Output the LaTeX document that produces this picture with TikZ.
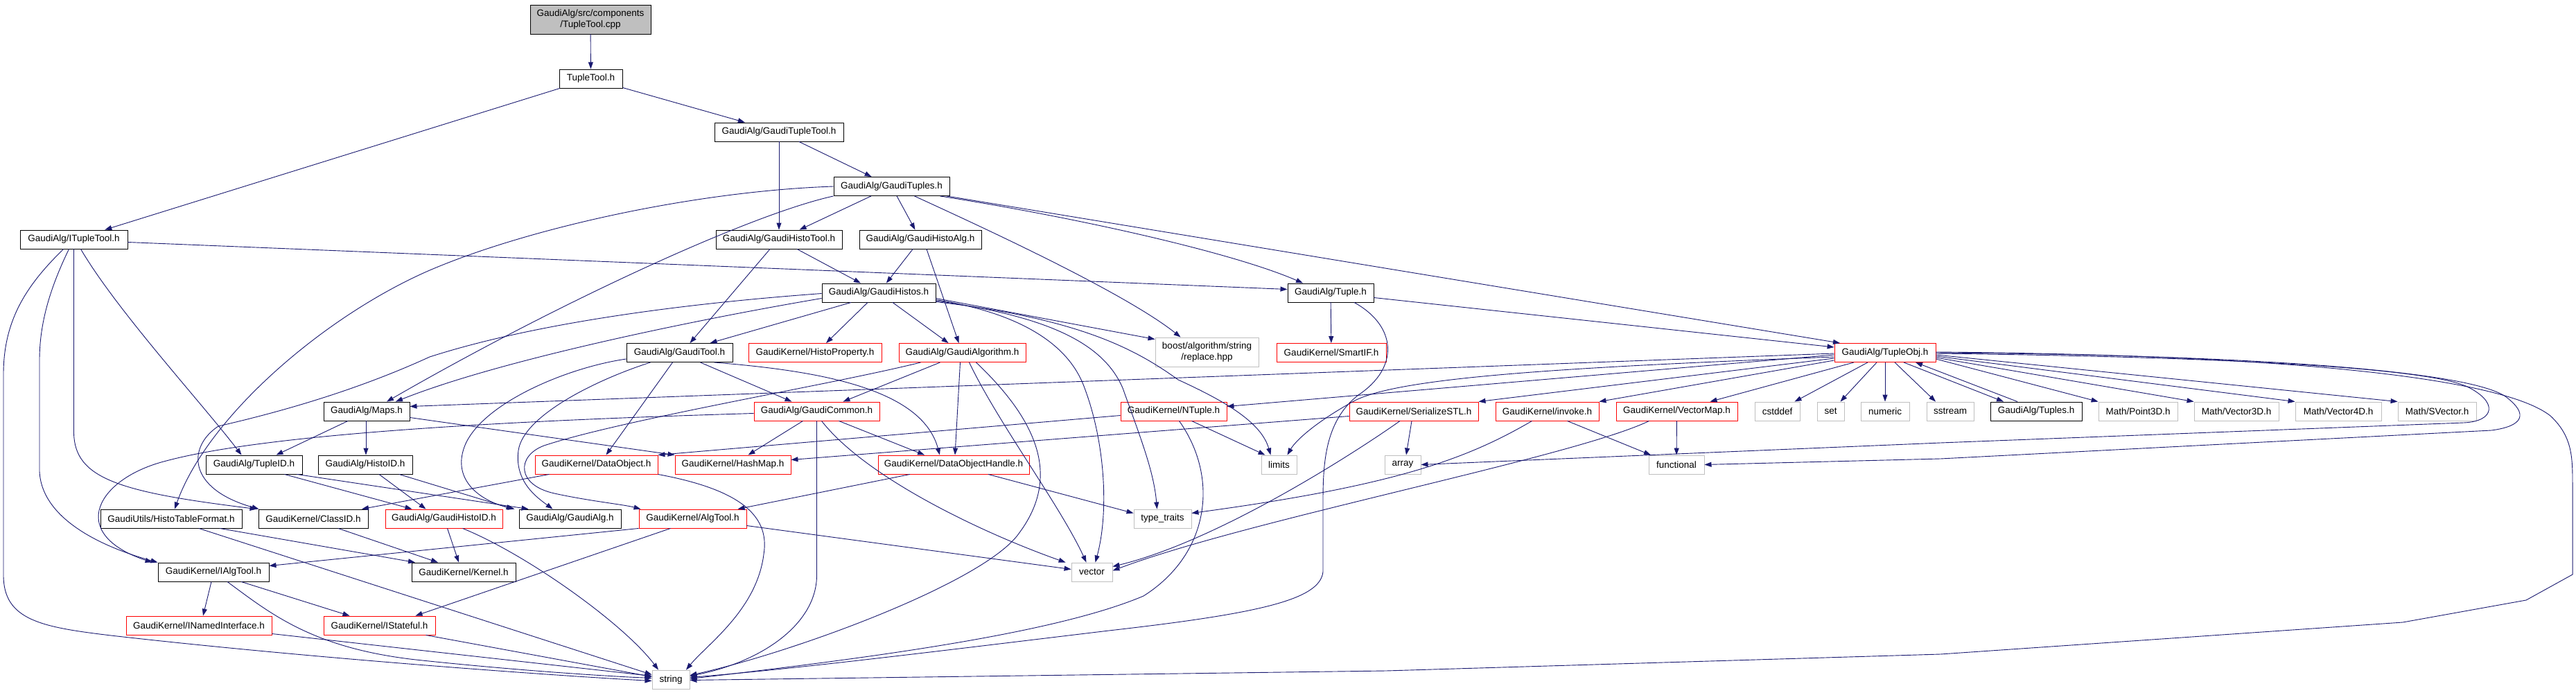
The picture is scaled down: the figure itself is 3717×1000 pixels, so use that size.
\documentclass[tikz,border=0pt]{standalone}
\usepackage{fontspec}
\setmainfont{Liberation Sans}
\usetikzlibrary{arrows.meta}
\definecolor{edgec}{HTML}{191970}
\definecolor{greyb}{HTML}{BFBFBF}
\definecolor{redb}{HTML}{FF0000}
\begin{document}
\begin{tikzpicture}[x=1pt,y=-1pt,
  box/.style={line width=0.9pt, inner sep=0pt, minimum height=27pt, font=\fontsize{13.5}{16}\selectfont, align=center, text=black},
  nb/.style={box, draw=black, minimum width=#1pt},
  nr/.style={box, draw=redb, minimum width=#1pt},
  ng/.style={box, draw=greyb, minimum width=#1pt},
  rootn/.style={box, draw=black, fill=greyb, minimum width=#1pt, minimum height=42pt},
  edg/.style={draw=edgec, line width=0.9pt, -{Triangle[length=10pt,width=7pt]}},
]
\fill[white] (0,0) rectangle (3717,1000);
\useasboundingbox (0,0) rectangle (3717,1000);

% ---------- nodes ----------
\node[rootn=174] (cpp) at (852,28) {GaudiAlg/src/components\\/TupleTool.cpp};
\node[nb=91] (tth) at (852.5,113.5) {TupleTool.h};
\node[nb=186] (gtt) at (1124,190.5) {GaudiAlg/GaudiTupleTool.h};
\node[nb=167] (gts) at (1286.5,269) {GaudiAlg/GaudiTuples.h};
\node[nb=155] (itt) at (106.5,345.5) {GaudiAlg/ITupleTool.h};
\node[nb=182] (ght) at (1124,345.5) {GaudiAlg/GaudiHistoTool.h};
\node[nb=176] (gha) at (1328,345.5) {GaudiAlg/GaudiHistoAlg.h};
\node[nb=164] (gh) at (1268,422.5) {GaudiAlg/GaudiHistos.h};
\node[nb=124] (tup) at (1920,422.5) {GaudiAlg/Tuple.h};
\node[nb=153] (gtool) at (980.5,509) {GaudiAlg/GaudiTool.h};
\node[nr=192] (hprop) at (1176,509) {GaudiKernel/HistoProperty.h};
\node[nr=183] (galgo) at (1388.5,509) {GaudiAlg/GaudiAlgorithm.h};
\node[ng=149, minimum height=42pt] (boost) at (1741.5,508) {boost/algorithm/string\\/replace.hpp};
\node[nr=158] (sif) at (1921,509) {GaudiKernel/SmartIF.h};
\node[nr=146] (tobj) at (2720,509) {GaudiAlg/TupleObj.h};

\node[nb=124] (maps) at (529,593.5) {GaudiAlg/Maps.h};
\node[nr=181] (gc) at (1178.5,593.5) {GaudiAlg/GaudiCommon.h};
\node[nr=153] (nt) at (1693.5,593.5) {GaudiKernel/NTuple.h};
\node[nr=186] (sstl) at (2040,593.5) {GaudiKernel/SerializeSTL.h};
\node[nr=149] (inv) at (2232.5,593.5) {GaudiKernel/invoke.h};
\node[nr=175] (vmap) at (2419.5,593.5) {GaudiKernel/VectorMap.h};
\node[ng=65] (cstd) at (2564.5,593.5) {cstddef};
\node[ng=39] (nset) at (2641.5,593.5) {set};
\node[ng=70] (num) at (2720,593.5) {numeric};
\node[ng=68] (sstr) at (2814,593.5) {sstream};
\node[nb=132] (tups) at (2938,593.5) {GaudiAlg/Tuples.h};
\node[ng=114] (p3) at (3085,593.5) {Math/Point3D.h};
\node[ng=122] (v3) at (3227,593.5) {Math/Vector3D.h};
\node[ng=124] (v4) at (3374,593.5) {Math/Vector4D.h};
\node[ng=113] (sv) at (3516.5,593.5) {Math/SVector.h};

\node[nb=139] (tid) at (366.5,670.5) {GaudiAlg/TupleID.h};
\node[nb=136] (hid) at (527,670.5) {GaudiAlg/HistoID.h};
\node[nr=177] (dobj) at (860.5,670.5) {GaudiKernel/DataObject.h};
\node[nr=167] (hmap) at (1057.5,670.5) {GaudiKernel/HashMap.h};
\node[nr=218] (doh) at (1376,670.5) {GaudiKernel/DataObjectHandle.h};
\node[ng=51] (lim) at (1845.5,670.5) {limits};
\node[ng=52] (arr) at (2024,670.5) {array};
\node[ng=80] (func) at (2419,670.5) {functional};

\node[nb=204] (htf) at (247,748.5) {GaudiUtils/HistoTableFormat.h};
\node[nb=158] (cid) at (452,748.5) {GaudiKernel/ClassID.h};
\node[nr=169] (ghid) at (640.5,748.5) {GaudiAlg/GaudiHistoID.h};
\node[nb=147] (galg) at (822.5,748.5) {GaudiAlg/GaudiAlg.h};
\node[nr=155] (atool) at (999.5,748.5) {GaudiKernel/AlgTool.h};
\node[ng=83] (ttr) at (1677.5,748.5) {type\_traits};

\node[nb=160] (ialg) at (308,825.5) {GaudiKernel/IAlgTool.h};
\node[nb=150] (kern) at (669,825.5) {GaudiKernel/Kernel.h};
\node[ng=59] (vec) at (1575.5,825.5) {vector};

\node[nr=210] (inam) at (287,902.5) {GaudiKernel/INamedInterface.h};
\node[nr=161] (ist) at (547.5,902.5) {GaudiKernel/IStateful.h};

\node[ng=54] (str) at (968,980.5) {string};

% ---------- edges ----------
\draw[edg] (cpp) -- (tth);
\draw[edg] (tth) -- (itt);
\draw[edg] (tth) -- (gtt);
\draw[edg] (gtt) -- (ght);
\draw[edg] (gtt) -- (gts);
\draw[edg] (gts) -- (ght);
\draw[edg] (gts) -- (gha);
\draw[edg] ([xshift=70]gts.south) .. controls (1560,315) and (1780,365) .. ([xshift=-40]tup.north);
\draw[edg] ([xshift=80]gts.south) -- ([xshift=-65]tobj.north);
\draw[edg] ([xshift=33]gts.south) .. controls (1400,320) and (1620,420) .. ([xshift=-38]boost.north);
\draw[edg] (gts.west) .. controls (1000,276) and (760,330) .. (620,390) .. controls (470,455) and (300,600) .. ([xshift=5]htf.north);
\draw[edg] (gts.south west) .. controls (1080,310) and (800,440) .. ([xshift=29]maps.north);

\draw[edg] ([yshift=-4]itt.east) -- ([yshift=5]tup.west);
\draw[edg] ([xshift=-15]itt.south) .. controls (40,410) and (5,460) .. (5,540) -- (5,830) .. controls (5,895) and (60,905) .. (160,917) .. controls (450,950) and (800,975) .. ([yshift=-2]str.west);
\draw[edg] ([xshift=-7]itt.south) .. controls (70,420) and (57,470) .. (57,520) -- (57,680) .. controls (60,750) and (150,790) .. (ialg.north west);
\draw[edg] (itt.south) -- (106.5,625) .. controls (108,690) and (170,710) .. ([xshift=-2]cid.north west);
\draw[edg] ([xshift=10]itt.south) .. controls (170,450) and (290,580) .. ([xshift=-18]tid.north);

\draw[edg] (ght) -- (gh);
\draw[edg] ([xshift=-13]ght.south) -- ([xshift=15]gtool.north);
\draw[edg] (gha) -- (gh);
\draw[edg] ([xshift=9]gha.south) -- ([xshift=-5]galgo.north);

\draw[edg] ([yshift=-8]gh.west) .. controls (1000,462) and (720,520) .. ([xshift=42]maps.north);
\draw[edg] ([yshift=-1]gh.west) .. controls (960,440) and (760,470) .. (620,515) .. controls (500,570) and (380,600) .. (315,615) .. controls (270,645) and (270,705) .. ([xshift=1]cid.north west);
\draw[edg] ([xshift=-40]gh.south) -- ([xshift=44]gtool.north);
\draw[edg] ([xshift=-16]gh.south) -- ([xshift=16]hprop.north);
\draw[edg] ([xshift=20]gh.south) -- ([xshift=-20]galgo.north);
\draw[edg] ([yshift=-8]gh.east) -- ([yshift=-3]boost.north west);
\draw[edg] ([yshift=-13]gh.east) .. controls (1560,460) and (1640,505) .. (1700,548) .. controls (1770,580) and (1820,610) .. ([xshift=-12]lim.north);
\draw[edg] ([yshift=-11.5]gh.east) .. controls (1500,455) and (1590,490) .. (1620,560) .. controls (1645,630) and (1665,680) .. ([xshift=-8]ttr.north);
\draw[edg] ([yshift=-10]gh.east) .. controls (1460,450) and (1540,490) .. (1565,560) .. controls (1595,640) and (1600,740) .. ([xshift=5]vec.north);

\draw[edg] (tup) -- (sif);
\draw[edg] ([yshift=-7]tup.east) -- ([yshift=8]tobj.west);
\draw[edg] ([xshift=34]tup.south) .. controls (2015,470) and (2020,530) .. (1960,570) .. controls (1915,605) and (1909,660) .. (1909,720) -- (1909,825) .. controls (1905,865) and (1820,885) .. (1600,910) .. controls (1350,940) and (1150,965) .. ([yshift=3]str.east);

\draw[edg] ([yshift=-9]gtool.west) .. controls (820,530) and (700,580) .. (672,640) .. controls (650,690) and (690,722) .. ([xshift=-6]galg.north west);
\draw[edg] ([xshift=-42]gtool.south) .. controls (860,548) and (755,600) .. (748,650) .. controls (742,695) and (775,718) .. ([xshift=-25]galg.north);
\draw[edg] ([xshift=-10]gtool.south) -- ([xshift=14]dobj.north);
\draw[edg] ([xshift=30]gtool.south) -- ([xshift=-36]gc.north);
\draw[edg] ([xshift=50]gtool.south) .. controls (1180,535) and (1330,560) .. ([xshift=-20]doh.north);

\draw[edg] ([xshift=-32]galgo.south) -- ([xshift=38]gc.north);
\draw[edg] ([xshift=-3]galgo.south) -- ([xshift=2]doh.north);
\draw[edg] ([xshift=10]galgo.south) .. controls (1440,610) and (1530,730) .. ([xshift=-8]vec.north);
\draw[edg] ([xshift=20]galgo.south) .. controls (1500,610) and (1530,690) .. (1470,770) .. controls (1420,840) and (1150,940) .. ([yshift=6]str.east);
\draw[edg] ([xshift=-60]galgo.south) .. controls (1200,555) and (900,605) .. (785,643) .. controls (745,658) and (745,700) .. (800,712) .. controls (850,723) and (900,728) .. ([xshift=3]atool.north west);

\draw[edg] ([yshift=-3]gc.west) .. controls (800,605) and (400,622) .. (240,665) .. controls (140,690) and (95,770) .. ([xshift=-8]ialg.north west);
\draw[edg] ([xshift=-20]gc.south) -- ([xshift=22]hmap.north);
\draw[edg] ([xshift=32]gc.south) -- ([xshift=-42]doh.north);
\draw[edg] ([xshift=7]gc.south) .. controls (1250,690) and (1420,770) .. ([xshift=-8]vec.north west);
\draw[edg] (gc.south) -- (1178.5,830) .. controls (1178.5,900) and (1100,955) .. ([yshift=5]str.east);

\draw[edg] ([xshift=-63]doh.south) -- ([xshift=65]atool.north);
\draw[edg] ([xshift=50]doh.south) -- ([yshift=8]ttr.west);

\draw[edg] ([xshift=-27]maps.south) -- ([xshift=32]tid.north);
\draw[edg] ([xshift=-1]maps.south) -- ([xshift=1]hid.north);
\draw[edg] ([yshift=-9]maps.east) -- (hmap.north west);

\draw[edg] ([xshift=44]tid.south) -- ([xshift=-46]ghid.north);
\draw[edg] ([xshift=62]tid.south) -- ([xshift=14]galg.north west);
\draw[edg] ([xshift=20]hid.south) -- ([xshift=-26]ghid.north);
\draw[edg] ([xshift=49]hid.south) -- ([xshift=-8]galg.north west);

\draw[edg] ([xshift=-68]dobj.south) -- ([xshift=70]cid.north);
\draw[edg] (dobj.south east) .. controls (1060,705) and (1112,740) .. (1102,800) .. controls (1092,880) and (1020,930) .. ([xshift=22]str.north);

\draw[edg] ([xshift=70]htf.south) -- ([xshift=-70]kern.north);
\draw[edg] ([xshift=40]htf.south) -- ([yshift=7]str.west);
\draw[edg] ([xshift=36]cid.south) -- ([xshift=-37]kern.north);
\draw[edg] ([xshift=5]ghid.south) -- ([xshift=-7]kern.north);
\draw[edg] ([xshift=27]ghid.south) .. controls (760,800) and (900,900) .. ([xshift=-18]str.north);

\draw[edg] (atool.south west) -- ([yshift=9]ialg.east);
\draw[edg] ([xshift=-32]atool.south) -- ([xshift=52]ist.north);
\draw[edg] ([yshift=-10]atool.east) -- ([yshift=4]vec.west);

\draw[edg] ([xshift=-3]ialg.south) -- ([xshift=6]inam.north);
\draw[edg] ([xshift=40]ialg.south) -- ([xshift=-43]ist.north);
\draw[edg] ([xshift=20]ialg.south) .. controls (390,885) and (450,935) .. (600,952) .. controls (750,968) and (880,976) .. ([yshift=2]str.west);
\draw[edg] ([yshift=-12]inam.east) -- ([yshift=5]str.west);
\draw[edg] ([xshift=67]ist.south) -- ([yshift=4]str.west);

\draw[edg] ([yshift=-6]nt.west) -- (dobj.north east);
\draw[edg] ([xshift=26]nt.south) -- ([xshift=-20]lim.north);
\draw[edg] ([xshift=8]nt.south) .. controls (1760,690) and (1745,800) .. (1650,860) .. controls (1520,915) and (1250,950) .. ([yshift=1]str.east);

\draw[edg] ([yshift=-7]sstl.west) -- ([yshift=7]hmap.east);
\draw[edg] ([xshift=-3]sstl.south) -- ([xshift=5]arr.north);
\draw[edg] ([xshift=-20]sstl.south) .. controls (1960,650) and (1760,780) .. ([yshift=8]vec.east);

\draw[edg] ([xshift=-22]inv.south) .. controls (2120,660) and (2020,700) .. ([yshift=8]ttr.east);
\draw[edg] ([xshift=29]inv.south) -- ([xshift=-37]func.north);
\draw[edg] (vmap) -- (func);
\draw[edg] ([xshift=-40]vmap.south) .. controls (2270,660) and (1800,750) .. ([yshift=2]vec.east);

\draw[edg] ([yshift=-1]tobj.west) -- ([yshift=7]maps.east);
\draw[edg] ([yshift=-3]tobj.west) -- ([yshift=7]nt.east);
\draw[edg] ([yshift=-6]tobj.west) .. controls (2250,530) and (2020,545) .. (1955,578) .. controls (1900,608) and (1870,635) .. ([xshift=12]lim.north);
\draw[edg] ([yshift=-8]tobj.west) -- (sstl.north east);
\draw[edg] ([yshift=-11]tobj.west) -- (inv.north east);
\draw[edg] ([xshift=-45]tobj.south) -- ([xshift=48]vmap.north);
\draw[edg] ([xshift=-25]tobj.south) -- ([xshift=25]cstd.north);
\draw[edg] ([xshift=-12]tobj.south) -- ([xshift=14]nset.north);
\draw[edg] (tobj) -- (num);
\draw[edg] ([xshift=14]tobj.south) -- ([xshift=-21]sstr.north);
\draw[edg] ([xshift=27]tobj.south) -- ([xshift=-47]tups.north);
\draw[edg] ([xshift=-27]tups.north) -- ([xshift=44]tobj.south);
\draw[edg] ([yshift=-9]tobj.east) -- (p3.north west);
\draw[edg] ([yshift=-7]tobj.east) -- (v3.north west);
\draw[edg] ([yshift=-5]tobj.east) -- (v4.north west);
\draw[edg] ([yshift=-3]tobj.east) -- (sv.north west);
\draw[edg] ([yshift=-1]tobj.east) .. controls (3200,515) and (3500,530) .. (3560,558) .. controls (3605,580) and (3600,608) .. (3555,610) -- (2800,639) -- (arr.east);
\draw[edg] (tobj.east) .. controls (3250,512) and (3560,535) .. (3615,572) .. controls (3650,598) and (3640,615) .. (3595,621) -- (2800,662) -- (func.east);
\draw[edg] ([yshift=1]tobj.east) .. controls (3300,512) and (3610,545) .. (3680,600) .. controls (3712,630) and (3712,660) .. (3712,700) -- (3712,829) -- (3645,866) -- (3467,898) -- (2800,944) -- (2000,968) -- ([yshift=-1]str.east);
\end{tikzpicture}
\end{document}
